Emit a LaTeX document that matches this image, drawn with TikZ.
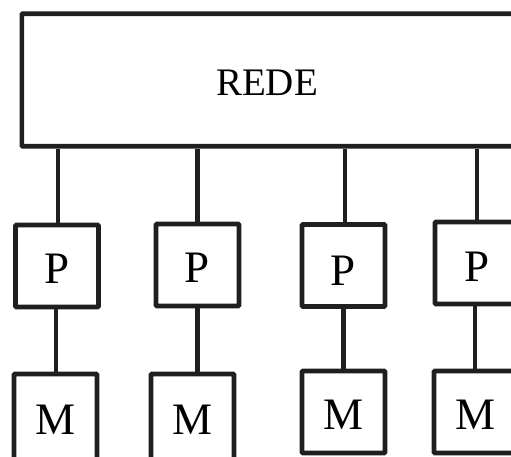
\documentclass[tikz,border=0pt]{standalone}
\usepackage{fontspec}
\setmainfont{Liberation Serif}
\begin{document}
\begin{tikzpicture}[x=1pt,y=-1pt,
  box/.style={draw=black!88, line width=4.6pt, rectangle, inner sep=0pt, rounded corners=0.8pt},
  pbox/.style={box, minimum width=83pt, minimum height=82pt},
  lbl/.style={inner sep=0pt, font=\fontsize{45}{48}\selectfont},
  link/.style={draw=black!88, line width=4.6pt}]
\path[use as bounding box] (0,0) rectangle (511,457);
\clip (0,0) rectangle (511,457);
\node[box, minimum width=530pt, minimum height=132.5pt, anchor=north west] (rede) at (19.5,11.5) {};
\node[inner sep=0pt, font=\fontsize{39}{42}\selectfont] (redet) at (267,83) {REDE};
% P boxes
\node[pbox] (P1) at (57,266) {};
\node[pbox] (P2) at (197.5,265) {};
\node[pbox] (P3) at (343.5,265.5) {};
\node[pbox, minimum width=110pt] (P4) at (490,263) {};
\node[lbl] (p1t) at (57,269) {P};
\node[lbl] (p2t) at (197.5,268) {P};
\node[lbl] (p3t) at (343.5,271) {P};
\node[lbl] (p4t) at (477,267) {P};
% M boxes
\node[pbox, minimum height=90pt] (M1) at (55.5,419) {};
\node[pbox, minimum height=90pt] (M2) at (192.5,419) {};
\node[pbox] (M3) at (343.5,412) {};
\node[pbox, minimum width=110pt] (M4) at (489,412) {};
\node[lbl] (m1t) at (55.5,420) {M};
\node[lbl] (m2t) at (192.5,420) {M};
\node[lbl] (m3t) at (343.5,415) {M};
\node[lbl] (m4t) at (475,415) {M};
% connectors
\draw[link] ([xshift=1pt]P1.north |- rede.south) -- ([xshift=1pt]P1.north);
\draw[link] (P2.north |- rede.south) -- (P2.north);
\draw[link] ([xshift=1.5pt]P3.north |- rede.south) -- ([xshift=1.5pt]P3.north);
\draw[link] (477,0 |- rede.south) -- (477,0 |- P4.north);
\draw[link] ([xshift=-1pt]P1.south) -- ([xshift=-1pt]P1.south |- M1.north);
\draw[link] (P2.south) -- (P2.south |- M2.north);
\draw[link] (P3.south) -- (P3.south |- M3.north);
\draw[link] (475,0 |- P4.south) -- (475,0 |- M4.north);
\end{tikzpicture}
\end{document}
